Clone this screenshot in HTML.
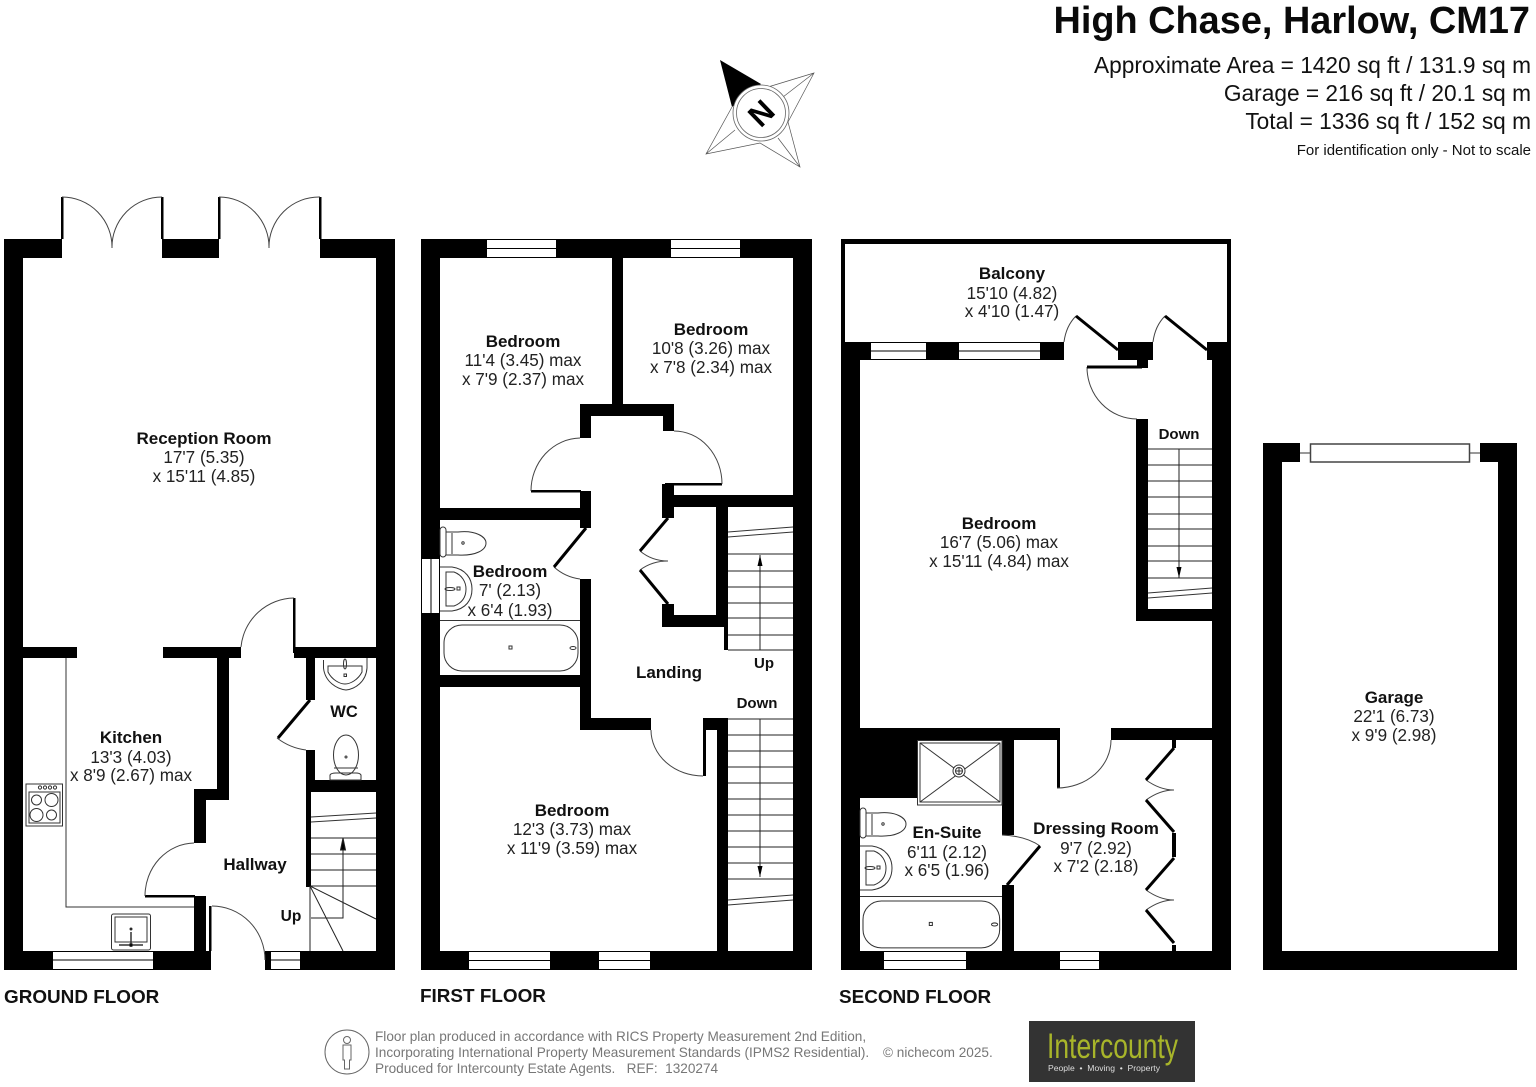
<!DOCTYPE html>
<html>
<head>
<meta charset="utf-8">
<style>
html,body{margin:0;padding:0;background:#fff}
svg{display:block}
text{font-family:"Liberation Sans",sans-serif;fill:#111;white-space:pre}
.b{font-weight:bold;font-size:17px;text-anchor:middle}
.r{font-size:17.1px;text-anchor:middle;fill:#222}
.h{font-size:22.7px;text-anchor:end;fill:#111}
.f{font-weight:bold;font-size:18.9px}
.g{font-size:13.6px;fill:#777}
.t{fill:none;stroke:#333;stroke-width:1}
.a{fill:none;stroke:#444;stroke-width:1}
.l{fill:none;stroke:#000;stroke-width:3}
.s{fill:none;stroke:#222;stroke-width:1}
.w{fill:#fff;stroke:#333;stroke-width:1}
</style>
</head>
<body>
<svg width="1536" height="1087" viewBox="0 0 1536 1087" xmlns="http://www.w3.org/2000/svg">
<defs>
<g id="toilet">
<rect x="0" y="0" width="6" height="30" rx="3" class="t"/>
<path d="M6 5H18C36 3 46 10 46 16C46 23 36 29 18 28H6" class="t"/>
<path d="M12 6V27" class="t"/>
<circle cx="23" cy="16" r="1.200" class="t"/>
</g>
<g id="basin">
<path d="M0 0H12C26 2 32 12 32 22C32 33 26 42 12 44H0" class="t"/>
<path d="M6 5H14C22 8 26 15 26 22C26 30 22 36 14 39H6Z" class="t"/>
<rect x="17" y="20" width="3" height="3" class="t"/>
<ellipse cx="10" cy="22" rx="5" ry="1.500" class="t"/>
</g>
<g id="bath">
<rect x="0" y="0" width="134" height="46" rx="18" class="t"/>
<rect x="65" y="21" width="3" height="3" class="t"/>
<ellipse cx="129" cy="23" rx="3" ry="1.500" class="t"/>
</g>
</defs>

<!-- header -->
<text x="1530" y="33" text-anchor="end" font-weight="bold" font-size="37.900" style="fill:#0a0a0a">High Chase, Harlow, CM17</text>
<text x="1531" y="73" class="h">Approximate Area = 1420 sq ft / 131.9 sq m</text>
<text x="1531" y="101" class="h">Garage = 216 sq ft / 20.1 sq m</text>
<text x="1531" y="129" class="h">Total = 1336 sq ft / 152 sq m</text>
<text x="1531" y="155" text-anchor="end" font-size="15">For identification only - Not to scale</text>

<!-- compass -->
<g>
<path d="M720 60L761 84L732 107Z" fill="#000"/>
<path d="M768 87L814 73L788 122L800 167L760 143L706 154L732 107M814 73L783 97M800 167L778 138M706 154L735 130" fill="none" stroke="#555" stroke-width="0.700"/>
<circle cx="761" cy="113" r="28" fill="#fff" stroke="#666" stroke-width="0.800"/>
<circle cx="761" cy="113" r="24.500" fill="#fff" stroke="#666" stroke-width="0.800"/>
<text x="761" y="124" text-anchor="middle" font-weight="bold" font-size="31" transform="rotate(-44 761 113)" style="fill:#000">N</text>
</g>

<!-- ================ GROUND FLOOR ================ -->
<g fill="#000">
<rect x="4" y="239" width="58" height="19"/>
<rect x="162" y="239" width="57" height="19"/>
<rect x="320" y="239" width="75" height="19"/>
<rect x="4" y="239" width="19" height="731"/>
<rect x="376" y="239" width="19" height="731"/>
<rect x="4" y="951" width="48" height="19"/>
<rect x="153" y="951" width="58" height="19"/>
<rect x="300" y="951" width="95" height="19"/>
<rect x="265" y="951" width="5" height="19"/>
<rect x="23" y="647" width="54" height="11"/>
<rect x="163" y="647" width="78" height="11"/>
<rect x="293" y="598" width="2.500" height="55"/>
<rect x="294" y="647" width="82" height="11"/>
<rect x="217" y="658" width="12" height="142"/>
<rect x="194" y="789" width="35" height="11"/>
<rect x="194" y="789" width="12" height="54"/>
<rect x="194" y="896" width="12" height="55"/>
<rect x="145" y="895" width="50" height="2.500"/>
<rect x="209" y="906" width="2.500" height="45"/>
<rect x="306" y="658" width="9" height="42"/>
<rect x="306" y="750" width="9" height="30"/>
<rect x="306" y="780" width="70" height="12"/>
<rect x="306" y="780" width="5" height="107"/>
</g>
<!-- french doors -->
<g>
<rect x="61" y="197" width="2.500" height="42" fill="#000"/>
<rect x="161" y="197" width="2.500" height="42" fill="#000"/>
<rect x="218" y="197" width="2.500" height="42" fill="#000"/>
<rect x="319" y="197" width="2.500" height="42" fill="#000"/>
<path d="M62 197A50 50 0 0 1 112 248M162 197A50 50 0 0 0 112 248M219 197A50 50 0 0 1 269 248M320 197A50 50 0 0 0 269 248" class="a"/>
<path d="M241 647A54 54 0 0 1 294 598" class="a"/>
<path d="M194 843A50 53 0 0 0 145 896" class="a"/>
<path d="M212 906A53 54 0 0 1 265 960" class="a"/>
<path d="M277 738Q290 748 306 750" class="a"/>
<path d="M310 700L278 738" class="l"/>
</g>
<g class="s">
<path d="M66 658V907H194" class="t"/>
<path d="M311 817L376 813M311 822L376 818" class="t"/>
<path d="M311 838H376M311 854H376M311 870H376M311 886H376" class="s"/>
<path d="M310 886V951M310 886L376 919M310 886L343 951" class="s"/>
<path d="M343 838V918H311" class="s"/>
<path d="M343 838L340.500 850H345.500Z" fill="#000"/>
</g>
<g fill="#fff" stroke="#000" stroke-width="1">
<rect x="52.500" y="951.500" width="101" height="18"/><path d="M52 960H153"/>
<rect x="270.500" y="951.500" width="30" height="18"/><path d="M270 960H300"/>
</g>
<!-- oven -->
<g class="t">
<rect x="26" y="784" width="36.500" height="42" stroke="#333"/>
<rect x="29" y="792" width="31" height="31"/>
<circle cx="36.500" cy="800" r="5"/><circle cx="51.500" cy="800" r="6.500"/><circle cx="36.500" cy="815" r="6.500"/><circle cx="51.500" cy="815" r="5"/>
<circle cx="40" cy="787.500" r="1.600"/><circle cx="45" cy="787.500" r="1.600"/><circle cx="50" cy="787.500" r="1.600"/><circle cx="55" cy="787.500" r="1.600"/>
</g>
<!-- sink -->
<g class="t">
<rect x="111.500" y="914" width="39" height="36" rx="2"/>
<rect x="115" y="917" width="32" height="25"/>
<path d="M131 932V945M119 945H143" stroke-width="1.500"/>
<circle cx="131" cy="929" r="1" fill="#000"/>
<circle cx="131" cy="945" r="1.500" fill="#000"/>
</g>
<!-- WC fittings -->
<g class="t">
<path d="M323.500 660V668C325 682 337 689 346 690C355 689 366 682 367 668V658"/>
<path d="M328 666H362V672C358 680 350 684 345 684C340 684 332 680 328 672Z"/>
<ellipse cx="345" cy="664" rx="1.500" ry="5"/>
<rect x="344" y="674" width="2.500" height="2.500"/>
<ellipse cx="346" cy="755" rx="12.500" ry="20"/>
<path d="M334 768H358"/>
<path d="M330 780V775Q331 773 336 773H356Q360 773 361 775V780Z"/>
<circle cx="346" cy="757" r="1"/>
</g>

<!-- ================ FIRST FLOOR ================ -->
<g fill="#000">
<rect x="421" y="239" width="65" height="19"/>
<rect x="557" y="239" width="113" height="19"/>
<rect x="741" y="239" width="71" height="19"/>
<rect x="421" y="239" width="19" height="319"/>
<rect x="421" y="614" width="19" height="356"/>
<rect x="793" y="239" width="19" height="731"/>
<rect x="421" y="951" width="47" height="19"/>
<rect x="551" y="951" width="47" height="19"/>
<rect x="651" y="951" width="161" height="19"/>
<rect x="612" y="258" width="11" height="146"/>
<rect x="580" y="404" width="94" height="12"/>
<rect x="580" y="404" width="11" height="34"/>
<rect x="663" y="404" width="11" height="27"/>
<rect x="580" y="491" width="11" height="37"/>
<rect x="440" y="508" width="140" height="12"/>
<rect x="531" y="490" width="50" height="2.500"/>
<rect x="665" y="483" width="57" height="2.500"/>
<rect x="662" y="484" width="12" height="34"/>
<rect x="674" y="495" width="119" height="12"/>
<rect x="716" y="507" width="12" height="108"/>
<rect x="662" y="615" width="62" height="12"/>
<rect x="662" y="604" width="12" height="23"/>
<rect x="724" y="615" width="4" height="35"/>
<rect x="580" y="579" width="11" height="151"/>
<rect x="440" y="675" width="140" height="12"/>
<rect x="580" y="718" width="71" height="12"/>
<rect x="703" y="718" width="25" height="12"/>
<rect x="717" y="718" width="11" height="233"/>
<rect x="703" y="720" width="3" height="56"/>
</g>
<g>
<path d="M580 438A50 53 0 0 0 531 491M674 431A48 53 0 0 1 722 484M554 567Q565 577 580 579M651 730A52 46 0 0 0 703 776M640 551Q652 561 668 561M640 570Q652 561 668 561" class="a"/>
<path d="M586 528L554 567M668 518L640 551M640 570L668 604" class="l"/>
<path d="M728 532L793 527M728 537L793 532M728 900L793 895M728 905L793 900" class="t"/>
<path d="M728 554H793M728 571H793M728 587H793M728 603H793M728 618H793M728 635H793M728 650H793M760 555V650" class="s"/>
<path d="M728 719H793M728 735H793M728 751H793M728 767H793M728 783H793M728 799H793M728 815H793M728 831H793M728 847H793M728 863H793M728 879H793M760 719V877" class="s"/>
<path d="M760 555L757.500 566H762.500ZM760 877L757.500 866H762.500Z" fill="#000"/>
<path d="M440 620.500H580" class="t"/>
</g>
<g fill="#fff" stroke="#000" stroke-width="1">
<rect x="486.500" y="239.500" width="70" height="18"/><path d="M486 248.500H557"/>
<rect x="670.500" y="239.500" width="70" height="18"/><path d="M670 248.500H741"/>
<rect x="468.500" y="951.500" width="82" height="18"/><path d="M468 960.500H551"/>
<rect x="598.500" y="951.500" width="52" height="18"/><path d="M598 960.500H651"/>
<rect x="421.500" y="558.500" width="18" height="55"/><path d="M431 558V614"/>
</g>
<use href="#toilet" x="440" y="527"/>
<use href="#basin" x="440" y="567"/>
<use href="#bath" x="444" y="625"/>

<!-- ================ SECOND FLOOR ================ -->
<g fill="#000">
<rect x="841" y="239" width="390" height="5"/>
<rect x="841" y="239" width="4" height="121"/>
<rect x="1227" y="239" width="4" height="121"/>
<rect x="841" y="342" width="29" height="18"/>
<rect x="927" y="342" width="31" height="18"/>
<rect x="1041" y="342" width="23" height="18"/>
<rect x="1118" y="342" width="35" height="18"/>
<rect x="1137" y="360" width="11" height="8"/>
<rect x="1207" y="342" width="24" height="18"/>
<rect x="841" y="342" width="19" height="628"/>
<rect x="1212" y="342" width="19" height="628"/>
<rect x="841" y="951" width="42" height="19"/>
<rect x="967" y="951" width="92" height="19"/>
<rect x="1100" y="951" width="131" height="19"/>
<rect x="1136" y="419" width="12" height="202"/>
<rect x="1136" y="609" width="76" height="12"/>
<rect x="860" y="728" width="197" height="12"/>
<rect x="1111" y="728" width="101" height="12"/>
<rect x="860" y="740" width="57" height="58"/>
<rect x="1002" y="738" width="12" height="97"/>
<rect x="1002" y="885" width="12" height="66"/>
<rect x="1057" y="728" width="3" height="60"/>
<rect x="1172" y="740" width="4" height="8"/>
<rect x="1172" y="833" width="4" height="24"/>
<rect x="1172" y="945" width="4" height="6"/>
</g>
<g>
<path d="M1064 342Q1066 326 1076 316M1153 342Q1155 326 1165 316M1087 367A50 52 0 0 0 1137 419M1057 788A54 48 0 0 0 1111 740M1002 835Q1026 836 1040 846M1146 780Q1160 790 1174 790M1146 800Q1160 790 1174 790M1146 890Q1160 900 1174 900M1146 910Q1160 900 1174 900" class="a"/>
<path d="M1118 350L1076 316M1207 350L1165 316M1087 367H1142M1040 846L1007 885M1174 748L1146 780M1146 800L1174 832M1174 858L1146 890M1146 910L1174 943" class="l"/>
<path d="M1148 449H1212M1148 465H1212M1148 481H1212M1148 497H1212M1148 514H1212M1148 529H1212M1148 546H1212M1148 561H1212M1148 578H1212M1179 449V578" class="s"/>
<path d="M1179 578L1176.500 567H1181.500Z" fill="#000"/>
<path d="M1148 593L1212 588M1148 598L1212 593" class="t"/>
<path d="M860 896.500H1002" class="t"/>
<g class="t">
<rect x="917.500" y="740.500" width="84.500" height="64.500"/>
<rect x="920" y="743" width="80" height="59"/>
<path d="M920 743L1000 802M1000 743L920 802"/>
<circle cx="959" cy="771" r="6" fill="#fff"/><circle cx="959" cy="771" r="3.500"/>
<path d="M955.500 771H962.500M959 767.500V774.500"/>
</g>
</g>
<g fill="#fff" stroke="#000" stroke-width="1">
<rect x="870.500" y="342.500" width="56" height="17"/><path d="M870 351H927"/>
<rect x="958.500" y="342.500" width="82" height="17"/><path d="M958 351H1041"/>
<rect x="883.500" y="951.500" width="83" height="18"/><path d="M883 960.500H967"/>
<rect x="1059.500" y="951.500" width="40" height="18"/><path d="M1059 960.500H1100"/>
</g>
<use href="#toilet" x="860" y="808"/>
<use href="#basin" x="860" y="846"/>
<use href="#bath" transform="translate(863 901) scale(1.020 1.020)"/>

<!-- ================ GARAGE ================ -->
<g fill="#000">
<rect x="1263" y="443" width="37" height="19"/>
<rect x="1480" y="443" width="37" height="19"/>
<rect x="1263" y="443" width="19" height="527"/>
<rect x="1498" y="443" width="19" height="527"/>
<rect x="1263" y="951" width="254" height="19"/>
</g>
<path d="M1300 453H1311M1469 453H1480" class="t"/>
<rect x="1310.500" y="444" width="159" height="18" fill="#fff" stroke="#444" stroke-width="1.500"/>

<!-- ================ LABELS ================ -->
<text x="204" y="444" class="b">Reception Room</text>
<text x="204" y="463" class="r">17'7 (5.35)</text>
<text x="204" y="482" class="r">x 15'11 (4.85)</text>
<text x="131" y="743" class="b">Kitchen</text>
<text x="131" y="763" class="r">13'3 (4.03)</text>
<text x="131" y="781" class="r">x 8'9 (2.67) max</text>
<text x="255" y="870" class="b">Hallway</text>
<text x="291" y="921" class="b" style="font-size:15.500px">Up</text>
<text x="344" y="717" class="b" style="font-size:16.500px">WC</text>

<text x="523" y="347" class="b">Bedroom</text>
<text x="523" y="366" class="r">11'4 (3.45) max</text>
<text x="523" y="385" class="r">x 7'9 (2.37) max</text>
<text x="711" y="335" class="b">Bedroom</text>
<text x="711" y="354" class="r">10'8 (3.26) max</text>
<text x="711" y="373" class="r">x 7'8 (2.34) max</text>
<text x="510" y="577" class="b">Bedroom</text>
<text x="510" y="596" class="r">7' (2.13)</text>
<text x="510" y="616" class="r">x 6'4 (1.93)</text>
<text x="669" y="678" class="b">Landing</text>
<text x="764" y="668" class="b" style="font-size:15px">Up</text>
<text x="757" y="708" class="b" style="font-size:15px">Down</text>
<text x="572" y="816" class="b">Bedroom</text>
<text x="572" y="835" class="r">12'3 (3.73) max</text>
<text x="572" y="854" class="r">x 11'9 (3.59) max</text>

<text x="1012" y="279" class="b">Balcony</text>
<text x="1012" y="299" class="r">15'10 (4.82)</text>
<text x="1012" y="317" class="r">x 4'10 (1.47)</text>
<text x="999" y="529" class="b">Bedroom</text>
<text x="999" y="548" class="r">16'7 (5.06) max</text>
<text x="999" y="567" class="r">x 15'11 (4.84) max</text>
<text x="1179" y="439" class="b" style="font-size:15px">Down</text>
<text x="947" y="838" class="b">En-Suite</text>
<text x="947" y="858" class="r">6'11 (2.12)</text>
<text x="947" y="876" class="r">x 6'5 (1.96)</text>
<text x="1096" y="834" class="b">Dressing Room</text>
<text x="1096" y="854" class="r">9'7 (2.92)</text>
<text x="1096" y="872" class="r">x 7'2 (2.18)</text>

<text x="1394" y="703" class="b">Garage</text>
<text x="1394" y="722" class="r">22'1 (6.73)</text>
<text x="1394" y="741" class="r">x 9'9 (2.98)</text>

<text x="4" y="1003" class="f">GROUND FLOOR</text>
<text x="420" y="1002" class="f">FIRST FLOOR</text>
<text x="839" y="1003" class="f">SECOND FLOOR</text>

<!-- footer -->
<g fill="none" stroke="#666" stroke-width="1">
<circle cx="347" cy="1052" r="22"/>
<circle cx="347" cy="1040" r="3.500"/>
<path d="M343 1045H351V1060H349.500V1069H344.500V1060H343Z"/>
</g>
<text x="375" y="1041" class="g">Floor plan produced in accordance with RICS Property Measurement 2nd Edition,</text>
<text x="375" y="1057" class="g">Incorporating International Property Measurement Standards (IPMS2 Residential).</text>
<text x="883" y="1057" class="g">© nichecom 2025.</text>
<text x="375" y="1073" class="g">Produced for Intercounty Estate Agents.   REF:  1320274</text>
<rect x="1029" y="1021" width="166" height="61" fill="#333"/>
<text x="1047" y="1058" font-size="35" textLength="131" lengthAdjust="spacingAndGlyphs" style="fill:#a8b52a">Intercounty</text>
<text x="1048" y="1071" font-size="8.500" textLength="112" lengthAdjust="spacingAndGlyphs" style="fill:#ddd">People  •  Moving  •  Property</text>
</svg>
</body>
</html>
